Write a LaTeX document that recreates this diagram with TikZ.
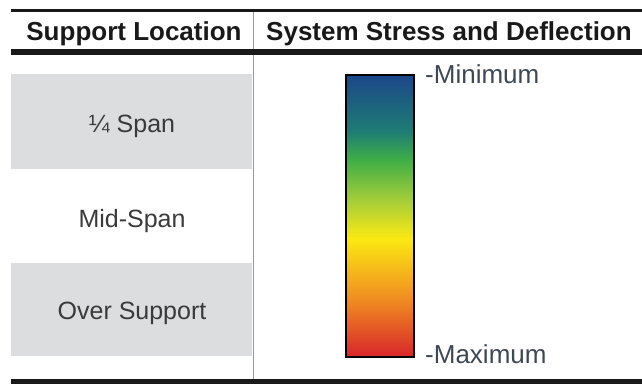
\documentclass[tikz,border=0pt]{standalone}
\usepackage{fontspec}
\setmainfont{Liberation Sans}

\definecolor{cellgray}{HTML}{DCDDDF}
\definecolor{celltextcol}{HTML}{3A3A3A}
\definecolor{scaletextcol}{HTML}{3E4854}
\definecolor{sblue}{HTML}{1B4789}
\definecolor{steal}{HTML}{1E7C74}
\definecolor{sgreen}{HTML}{3EAE47}
\definecolor{sygreen}{HTML}{A9CF38}
\definecolor{syellow}{HTML}{FBE912}
\definecolor{sorange}{HTML}{F08A22}
\definecolor{sred}{HTML}{D8252A}

\pgfdeclareverticalshading{stressbar}{100bp}{color(0bp)=(sred); color(25bp)=(sred); color(35bp)=(sorange); color(46bp)=(syellow); color(52.5bp)=(sygreen); color(60bp)=(sgreen); color(65bp)=(steal); color(75bp)=(sblue); color(100bp)=(sblue)}

\tikzset{
  rule/.style={line width=#1, black!90},
  headtext/.style={font=\fontsize{26}{30}\selectfont\bfseries, text=black!90, anchor=base},
  celltext/.style={font=\fontsize{25}{30}\selectfont, text=celltextcol, anchor=base},
  scaletext/.style={font=\fontsize{26}{30}\selectfont, text=scaletextcol, anchor=base west, inner sep=0pt},
}

\begin{document}
\begin{tikzpicture}[x=1pt, y=-1pt]
  \useasboundingbox (0,0) rectangle (642,383);

  % shaded rows
  \fill[cellgray] (11,74) rectangle (252,169);
  \fill[cellgray] (11,263) rectangle (252,356);

  % column rule and table rules
  \draw[line width=1.5pt, black!40] (253.5,9) -- (253.5,383);
  \draw[rule=3pt] (11,10.5) -- (642,10.5);
  \draw[rule=6pt] (11,52) -- (642,52);
  \draw[rule=5pt] (11,381.5) -- (642,381.5);

  \node[headtext] (loc) at (134,40) {Support Location};
  \node[headtext] (stress) at (449,40) {System Stress and Deflection};

  \node[celltext] (quarter) at (132,132) {¼ Span};
  \node[celltext] (mid) at (132,227) {Mid-Span};
  \node[celltext] (over) at (132,319) {Over Support};

  \node[draw=black, line width=2pt, shading=stressbar, minimum width=68pt, minimum height=282pt, inner sep=0pt] (bar) at (380,216) {};
  \node[scaletext] (minlbl) at (425,83) {-Minimum};
  \node[scaletext] (maxlbl) at (425,363) {-Maximum};
\end{tikzpicture}
\end{document}
